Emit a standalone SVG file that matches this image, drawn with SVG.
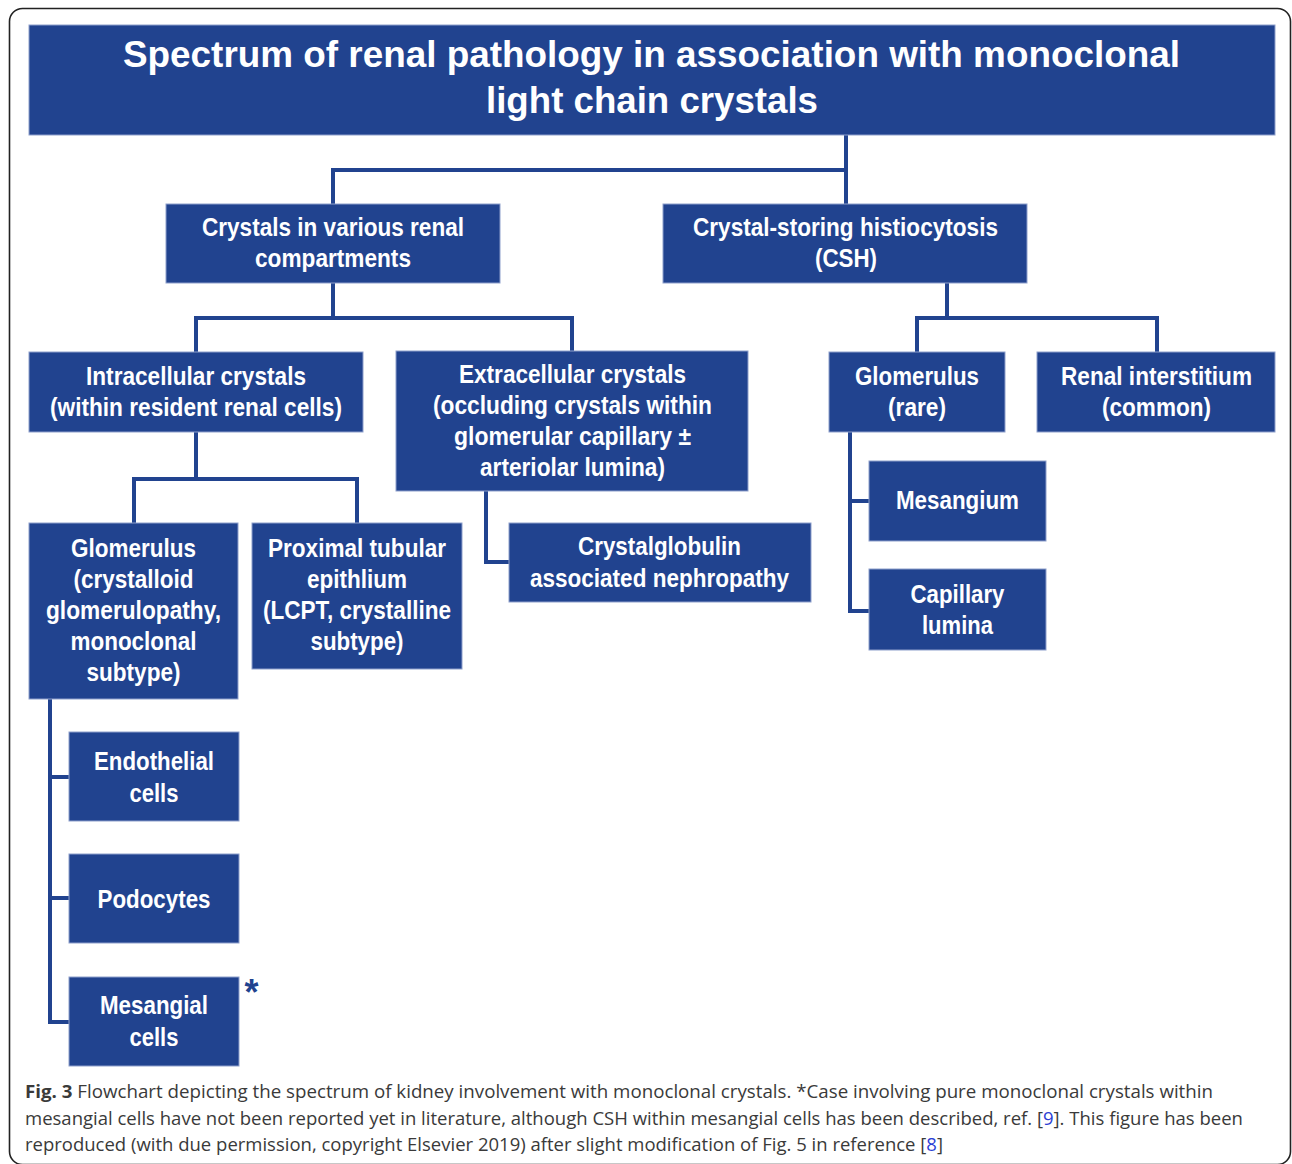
<svg xmlns="http://www.w3.org/2000/svg" width="1292" height="1164" viewBox="0 0 1292 1164">
<defs>
<style>
.box{fill:#21438f;stroke:#8e9fcb;stroke-width:1}
.t{font-family:"Liberation Sans Narrow","Arial Narrow","Liberation Sans",sans-serif;font-weight:bold;font-size:25px;fill:#ffffff;text-anchor:middle}
.title{font-family:"Liberation Sans",Arial,sans-serif;font-weight:bold;font-size:36px;fill:#ffffff;text-anchor:middle}
.conn{fill:none;stroke:#21438f;stroke-width:4;stroke-linejoin:miter}
.cap{font-family:"Open Sans","Noto Sans",sans-serif;font-size:18px;fill:#3a3a3a}
.link{fill:#2b3fd4}
</style>
</defs>
<rect x="0" y="0" width="1292" height="1164" fill="#ffffff"/>
<rect x="9.5" y="8.5" width="1281" height="1156" rx="13" fill="none" stroke="#222222" stroke-width="1.6"/>

<g id="connectors">
<path class="conn" d="M846,135 V170 M333,204 V170 H846 V204"/>
<path class="conn" d="M333,283 V318 M196,352 V318 H572 V351"/>
<path class="conn" d="M947,283 V318 M917,352 V318 H1157 V352"/>
<path class="conn" d="M196,432 V479 M134,523 V479 H357 V523"/>
<path class="conn" d="M486,491 V562 H509"/>
<path class="conn" d="M50,699 V1022 H70 M50,777 H70 M50,898 H70"/>
<path class="conn" d="M850,432 V611 H870 M850,501 H870"/>
</g>

<g id="title">
<rect class="box" x="29" y="25" width="1246" height="110"/>
<text class="title" x="651.5" y="67" textLength="1057" lengthAdjust="spacingAndGlyphs">Spectrum of renal pathology in association with monoclonal</text>
<text class="title" x="652" y="113" textLength="332" lengthAdjust="spacingAndGlyphs">light chain crystals</text>
</g>

<g id="node-compartments">
<rect class="box" x="166" y="204" width="334" height="79"/>
<text class="t" x="333" y="236" textLength="262" lengthAdjust="spacingAndGlyphs">Crystals in various renal</text>
<text class="t" x="333" y="267" textLength="156" lengthAdjust="spacingAndGlyphs">compartments</text>
</g>

<g id="node-csh">
<rect class="box" x="663" y="204" width="364" height="79"/>
<text class="t" x="845.5" y="236" textLength="305" lengthAdjust="spacingAndGlyphs">Crystal-storing histiocytosis</text>
<text class="t" x="846" y="267" textLength="62" lengthAdjust="spacingAndGlyphs">(CSH)</text>
</g>

<g id="node-intracellular">
<rect class="box" x="29" y="352" width="334" height="80"/>
<text class="t" x="196" y="385" textLength="220" lengthAdjust="spacingAndGlyphs">Intracellular crystals</text>
<text class="t" x="196" y="416" textLength="292" lengthAdjust="spacingAndGlyphs">(within resident renal cells)</text>
</g>

<g id="node-extracellular">
<rect class="box" x="396" y="351" width="352" height="140"/>
<text class="t" x="572.5" y="383" textLength="227" lengthAdjust="spacingAndGlyphs">Extracellular crystals</text>
<text class="t" x="572.5" y="414" textLength="279" lengthAdjust="spacingAndGlyphs">(occluding crystals within</text>
<text class="t" x="572.5" y="445" textLength="237" lengthAdjust="spacingAndGlyphs">glomerular capillary ±</text>
<text class="t" x="572.5" y="476" textLength="185" lengthAdjust="spacingAndGlyphs">arteriolar lumina)</text>
</g>

<g id="node-glomerulus-rare">
<rect class="box" x="829" y="352" width="176" height="80"/>
<text class="t" x="917" y="385" textLength="124" lengthAdjust="spacingAndGlyphs">Glomerulus</text>
<text class="t" x="917" y="416" textLength="58" lengthAdjust="spacingAndGlyphs">(rare)</text>
</g>

<g id="node-interstitium">
<rect class="box" x="1037" y="352" width="238" height="80"/>
<text class="t" x="1156.5" y="385" textLength="191" lengthAdjust="spacingAndGlyphs">Renal interstitium</text>
<text class="t" x="1156.5" y="416" textLength="109" lengthAdjust="spacingAndGlyphs">(common)</text>
</g>

<g id="node-mesangium">
<rect class="box" x="869" y="461" width="177" height="80"/>
<text class="t" x="957.5" y="509" textLength="123" lengthAdjust="spacingAndGlyphs">Mesangium</text>
</g>

<g id="node-capillary">
<rect class="box" x="869" y="569" width="177" height="81"/>
<text class="t" x="957.5" y="603" textLength="94" lengthAdjust="spacingAndGlyphs">Capillary</text>
<text class="t" x="957.5" y="634" textLength="71" lengthAdjust="spacingAndGlyphs">lumina</text>
</g>

<g id="node-crystalglobulin">
<rect class="box" x="509" y="523" width="302" height="79"/>
<text class="t" x="659.5" y="555" textLength="163" lengthAdjust="spacingAndGlyphs">Crystalglobulin</text>
<text class="t" x="659.5" y="586.5" textLength="259" lengthAdjust="spacingAndGlyphs">associated nephropathy</text>
</g>

<g id="node-glomerulus-crystalloid">
<rect class="box" x="29" y="523" width="209" height="176"/>
<text class="t" x="133.5" y="557" textLength="125" lengthAdjust="spacingAndGlyphs">Glomerulus</text>
<text class="t" x="133.5" y="588" textLength="120" lengthAdjust="spacingAndGlyphs">(crystalloid</text>
<text class="t" x="133.5" y="619" textLength="175" lengthAdjust="spacingAndGlyphs">glomerulopathy,</text>
<text class="t" x="133.5" y="650" textLength="126" lengthAdjust="spacingAndGlyphs">monoclonal</text>
<text class="t" x="133.5" y="681" textLength="94" lengthAdjust="spacingAndGlyphs">subtype)</text>
</g>

<g id="node-proximal">
<rect class="box" x="252" y="523" width="210" height="146"/>
<text class="t" x="357" y="557" textLength="178" lengthAdjust="spacingAndGlyphs">Proximal tubular</text>
<text class="t" x="357" y="588" textLength="100" lengthAdjust="spacingAndGlyphs">epithlium</text>
<text class="t" x="357" y="619" textLength="188" lengthAdjust="spacingAndGlyphs">(LCPT, crystalline</text>
<text class="t" x="357" y="650" textLength="93" lengthAdjust="spacingAndGlyphs">subtype)</text>
</g>

<g id="node-endothelial">
<rect class="box" x="69" y="732" width="170" height="89"/>
<text class="t" x="154" y="770" textLength="120" lengthAdjust="spacingAndGlyphs">Endothelial</text>
<text class="t" x="154" y="801.5" textLength="49" lengthAdjust="spacingAndGlyphs">cells</text>
</g>

<g id="node-podocytes">
<rect class="box" x="69" y="854" width="170" height="89"/>
<text class="t" x="154" y="907.5" textLength="113" lengthAdjust="spacingAndGlyphs">Podocytes</text>
</g>

<g id="node-mesangial-cells">
<rect class="box" x="69" y="977" width="170" height="89"/>
<text class="t" x="154" y="1014" textLength="108" lengthAdjust="spacingAndGlyphs">Mesangial</text>
<text class="t" x="154" y="1045.5" textLength="49" lengthAdjust="spacingAndGlyphs">cells</text>
<text x="251.5" y="1005" font-family="Liberation Sans, sans-serif" font-weight="bold" font-size="36" fill="#21438f" text-anchor="middle">*</text>
</g>

<g id="caption">
<text class="cap" x="25" y="1097.5" textLength="1188" lengthAdjust="spacingAndGlyphs"><tspan font-weight="bold">Fig. 3</tspan> Flowchart depicting the spectrum of kidney involvement with monoclonal crystals. *Case involving pure monoclonal crystals within</text>
<text class="cap" x="25" y="1124.5" textLength="1218" lengthAdjust="spacingAndGlyphs">mesangial cells have not been reported yet in literature, although CSH within mesangial cells has been described, ref. [<tspan class="link">9</tspan>]. This figure has been</text>
<text class="cap" x="25" y="1151" textLength="918" lengthAdjust="spacingAndGlyphs">reproduced (with due permission, copyright Elsevier 2019) after slight modification of Fig. 5 in reference [<tspan class="link">8</tspan>]</text>
</g>
</svg>
